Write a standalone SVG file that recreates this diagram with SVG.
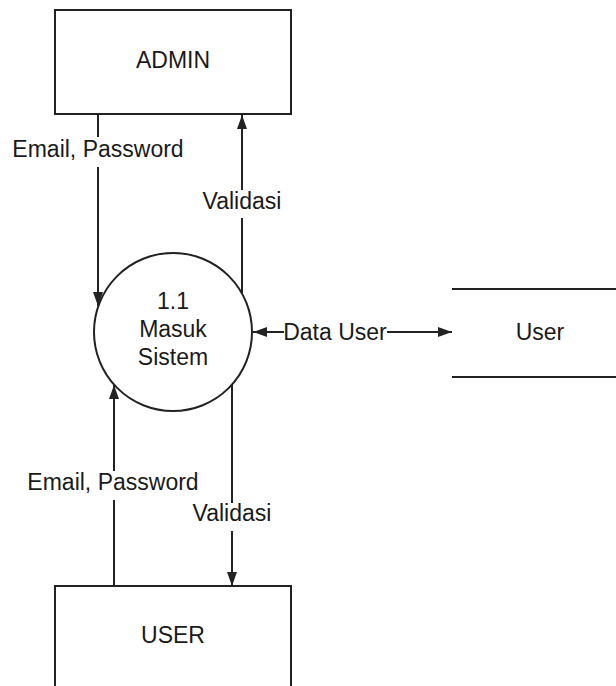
<svg xmlns="http://www.w3.org/2000/svg" width="616" height="686" viewBox="0 0 616 686">
  <style>
    .box { fill: #ffffff; stroke: #222222; stroke-width: 2; }
    .flow { fill: none; stroke: #222222; stroke-width: 2; }
    .lbl { font-family: "Liberation Sans", Arial, sans-serif; font-size: 23px; fill: #1a1a1a; text-anchor: middle; }
  </style>
  <defs>
    <marker id="arrow" viewBox="0 0 14 10" refX="14" refY="5" markerWidth="14" markerHeight="10" markerUnits="userSpaceOnUse" orient="auto-start-reverse">
      <path d="M0,0 L14,5 L0,10 Z" fill="#222222"/>
    </marker>
  </defs>
  <rect width="616" height="686" fill="#ffffff"/>

  <!-- data flows -->
  <g id="connectors">
    <!-- ADMIN -> process: Email, Password -->
    <line class="flow" x1="98" y1="114" x2="98" y2="137"/>
    <line class="flow" x1="98" y1="167" x2="98" y2="306" marker-end="url(#arrow)"/>
    <text class="lbl" x="98" y="157">Email, Password</text>

    <!-- process -> ADMIN: Validasi -->
    <line class="flow" x1="242" y1="293" x2="242" y2="218"/>
    <line class="flow" x1="242" y1="190" x2="242" y2="115" marker-end="url(#arrow)"/>
    <text class="lbl" x="242" y="209">Validasi</text>

    <!-- process <-> data store: Data User -->
    <line class="flow" x1="284" y1="332" x2="253" y2="332" marker-end="url(#arrow)"/>
    <line class="flow" x1="387" y1="332" x2="452" y2="332" marker-end="url(#arrow)"/>
    <text class="lbl" x="335" y="340">Data User</text>

    <!-- USER -> process: Email, Password -->
    <line class="flow" x1="114" y1="586" x2="114" y2="500"/>
    <line class="flow" x1="114" y1="471" x2="114" y2="385" marker-end="url(#arrow)"/>
    <text class="lbl" x="113" y="490">Email, Password</text>

    <!-- process -> USER: Validasi -->
    <line class="flow" x1="232" y1="385" x2="232" y2="503"/>
    <line class="flow" x1="232" y1="531" x2="232" y2="586" marker-end="url(#arrow)"/>
    <text class="lbl" x="232" y="521">Validasi</text>
  </g>

  <!-- external entity ADMIN -->
  <g id="admin">
    <rect class="box" x="55" y="10" width="236" height="104"/>
    <text class="lbl" x="173" y="68">ADMIN</text>
  </g>

  <!-- process 1.1 -->
  <g id="masuk-sistem">
    <circle class="box" cx="173" cy="332" r="79"/>
    <text class="lbl" x="173" y="309">1.1</text>
    <text class="lbl" x="173" y="337">Masuk</text>
    <text class="lbl" x="173" y="365">Sistem</text>
  </g>

  <!-- data store User -->
  <g id="user-store">
    <line class="flow" x1="452" y1="289" x2="616" y2="289"/>
    <line class="flow" x1="452" y1="377" x2="616" y2="377"/>
    <text class="lbl" x="540" y="340">User</text>
  </g>

  <!-- external entity USER -->
  <g id="user">
    <rect class="box" x="55" y="586" width="236" height="120"/>
    <text class="lbl" x="173" y="643">USER</text>
  </g>
</svg>
